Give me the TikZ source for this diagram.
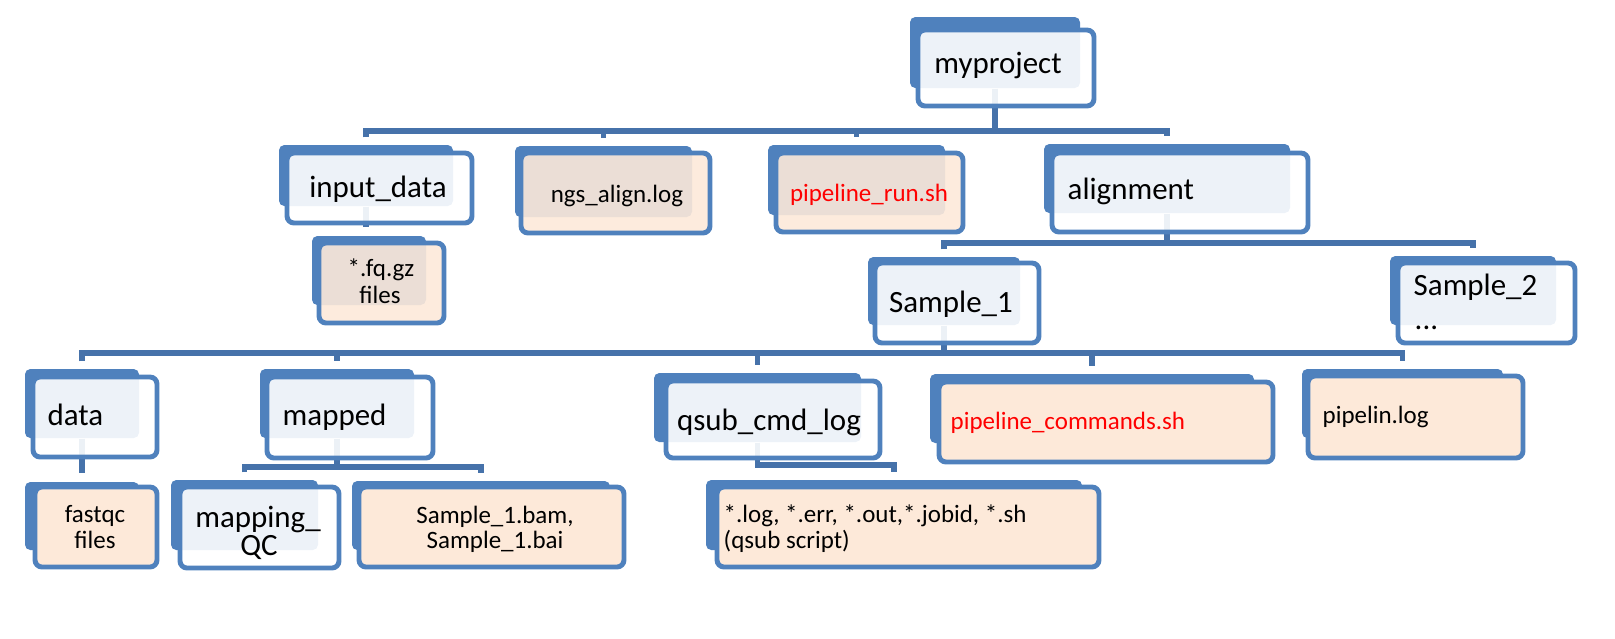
\documentclass[tikz,border=0pt]{standalone}
\usepackage{fontspec}
\setmainfont{Carlito}
\usetikzlibrary{fit, backgrounds}
\definecolor{boxBlue}{HTML}{4F81BD}
\definecolor{lineBlue}{HTML}{4672AA}
\definecolor{filePeach}{HTML}{FDE9D9}
\definecolor{scriptRed}{HTML}{FF0000}

\begin{document}
\begin{tikzpicture}[x=0.01cm, y=-0.01cm,
  bk/.style={fill=boxBlue, rounded corners=1.5pt, inner sep=0pt},
  dir/.style={draw=boxBlue, line width=1.4pt, fill=white, fill opacity=0.9, rounded corners=2pt, inner sep=0pt},
  fil/.style={dir, fill=filePeach},
  filo/.style={fil, fill opacity=1},
  conn/.style={draw=lineBlue, line width=1.6pt},
  big/.style={font=\fontsize{8.8}{10}\selectfont, inner sep=0pt},
  sml/.style={font=\fontsize{7.1}{8}\selectfont, inner sep=0pt},
  scr/.style={sml, text=scriptRed}]
\useasboundingbox (0,0) rectangle (1615,638);
% top level
\node[bk, fit={(910,17)(1080,88)}] (myproj) {};
\node[dir, fit={(918,30)(1094,106)}] (myprojF) {};
\node[big, anchor=base] (myprojT) at (998,73) {myproject};
% level 1
\node[bk, fit={(279,145)(453,206)}] (indata) {};
\node[dir, fit={(287,153)(472,223)}] (indataF) {};
\node[big, anchor=base] (indataT) at (378,197) {input\_data};
\node[bk, fit={(515,146)(692,217)}] (ngs) {};
\node[fil, fit={(521,153)(710,233)}] (ngsF) {};
\node[sml, anchor=base] (ngsT) at (617,202) {ngs\_align.log};
\node[bk, fit={(768,145)(945,215)}] (prun) {};
\node[fil, fit={(776,153)(963,232)}] (prunF) {};
\node[scr, anchor=base] (prunT) at (869,201) {pipeline\_run.sh};
\node[bk, fit={(1044,144)(1290,213)}] (align) {};
\node[dir, fit={(1052,153)(1308,232)}] (alignF) {};
\node[big, anchor=base west] (alignT) at (1067,199) {alignment};
% level 2
\node[bk, fit={(312,236)(426,305)}] (fq) {};
\node[fil, fit={(319,243)(444,323)}] (fqF) {};
\node[sml, anchor=base] (fqT1) at (381,276) {*.fq.gz};
\node[sml, anchor=base] (fqT2) at (380,303) {files};
\node[bk, fit={(868,257)(1020,325)}] (sam1) {};
\node[dir, fit={(875,263)(1039,343)}] (sam1F) {};
\node[big, anchor=base] (sam1T) at (951,312) {Sample\_1};
\node[bk, fit={(1390,256)(1556,325)}] (sam2) {};
\node[dir, fit={(1398,263)(1575,343)}] (sam2F) {};
\node[big, anchor=base west] (sam2T1) at (1413,295) {Sample\_2};
\node[big, anchor=base west] (sam2T2) at (1414,329) {...};
% level 3
\node[bk, fit={(25,369)(139,438)}] (data) {};
\node[dir, fit={(33,377)(157,457)}] (dataF) {};
\node[big, anchor=base west] (dataT) at (47,425) {data};
\node[bk, fit={(260,369)(414,438)}] (mapped) {};
\node[dir, fit={(267,377)(433,458)}] (mappedF) {};
\node[big, anchor=base west] (mappedT) at (282,425) {mapped};
\node[bk, fit={(654,373)(861,442)}] (qsub) {};
\node[dir, fit={(666,381)(880,458)}] (qsubF) {};
\node[big, anchor=base] (qsubT) at (769,430) {qsub\_cmd\_log};
\node[bk, fit={(930,374)(1254,443)}] (pcmd) {};
\node[filo, fit={(939,382)(1273,462)}] (pcmdF) {};
\node[scr, anchor=base west] (pcmdT) at (950,429) {pipeline\_commands.sh};
\node[bk, fit={(1302,369)(1503,438)}] (plog) {};
\node[filo, fit={(1308,376)(1523,458)}] (plogF) {};
\node[sml, anchor=base west] (plogT) at (1322,423) {pipelin.log};
% level 4
\node[bk, fit={(25,482)(139,550)}] (fastqc) {};
\node[filo, fit={(35,487)(157,567)}] (fastqcF) {};
\node[sml, anchor=base] (fastqcT1) at (95,522) {fastqc};
\node[sml, anchor=base] (fastqcT2) at (95,548) {files};
\node[bk, fit={(171,480)(318,550)}] (mapqc) {};
\node[dir, fit={(180,487)(339,568)}] (mapqcF) {};
\node[big, anchor=base] (mapqcT1) at (258,527) {mapping\_};
\node[big, anchor=base] (mapqcT2) at (259,555) {QC};
\node[bk, fit={(352,481)(610,550)}] (bam) {};
\node[filo, fit={(359,487)(624,567)}] (bamF) {};
\node[sml, anchor=base] (bamT1) at (495,523) {Sample\_1.bam,};
\node[sml, anchor=base] (bamT2) at (495,548) {Sample\_1.bai};
\node[bk, fit={(706,480)(1082,550)}] (logs) {};
\node[filo, fit={(717,487)(1099,567)}] (logsF) {};
\node[sml, anchor=base west] (logsT1) at (723,522) {*.log, *.err, *.out,*.jobid, *.sh};
\node[sml, anchor=base west] (logsT2) at (723,548) {(qsub script)};
% connectors
\begin{scope}[on background layer]
\coordinate (busA) at (myproj.south |- 0,131);
\draw[conn] (myproj.south) -- (busA);
\draw[conn, shorten <=2pt, shorten >=2pt] (indata.north) |- (busA) -| (align.north);
\draw[conn, shorten >=2pt] (ngs.north |- busA) -- (ngs.north);
\draw[conn, shorten >=2pt] (prun.north |- busA) -- (prun.north);
\draw[conn, shorten >=2.5pt] (indata.south) -- (indata.south |- fq.north);
\coordinate (busB) at (align.south |- 0,243);
\draw[conn] (align.south) -- (busB);
\draw[conn, shorten <=2pt, shorten >=2pt] (sam1.north) |- (busB) -| (sam2.north);
\coordinate (busC) at (sam1.south |- 0,353);
\draw[conn] (sam1.south) -- (busC);
\draw[conn, shorten <=2pt, shorten >=2pt] (data.north) |- (busC) -| (plog.north);
\draw[conn, shorten >=2pt] (mapped.north |- busC) -- (mapped.north);
\draw[conn, shorten >=2pt] (qsub.north |- busC) -- (qsub.north);
\draw[conn, shorten >=2pt] (pcmd.north |- busC) -- (pcmd.north);
\draw[conn, shorten >=2.5pt] (data.south) -- (fastqc.north);
\coordinate (busD) at (mapped.south |- 0,467);
\draw[conn] (mapped.south) -- (busD);
\draw[conn, shorten <=2pt, shorten >=2pt] (mapqc.north) |- (busD) -| (bam.north);
\draw[conn, shorten >=2pt] (qsub.south) -- (qsub.south |- 0,465) -| (logs.north);
\end{scope}
\end{tikzpicture}
\end{document}
